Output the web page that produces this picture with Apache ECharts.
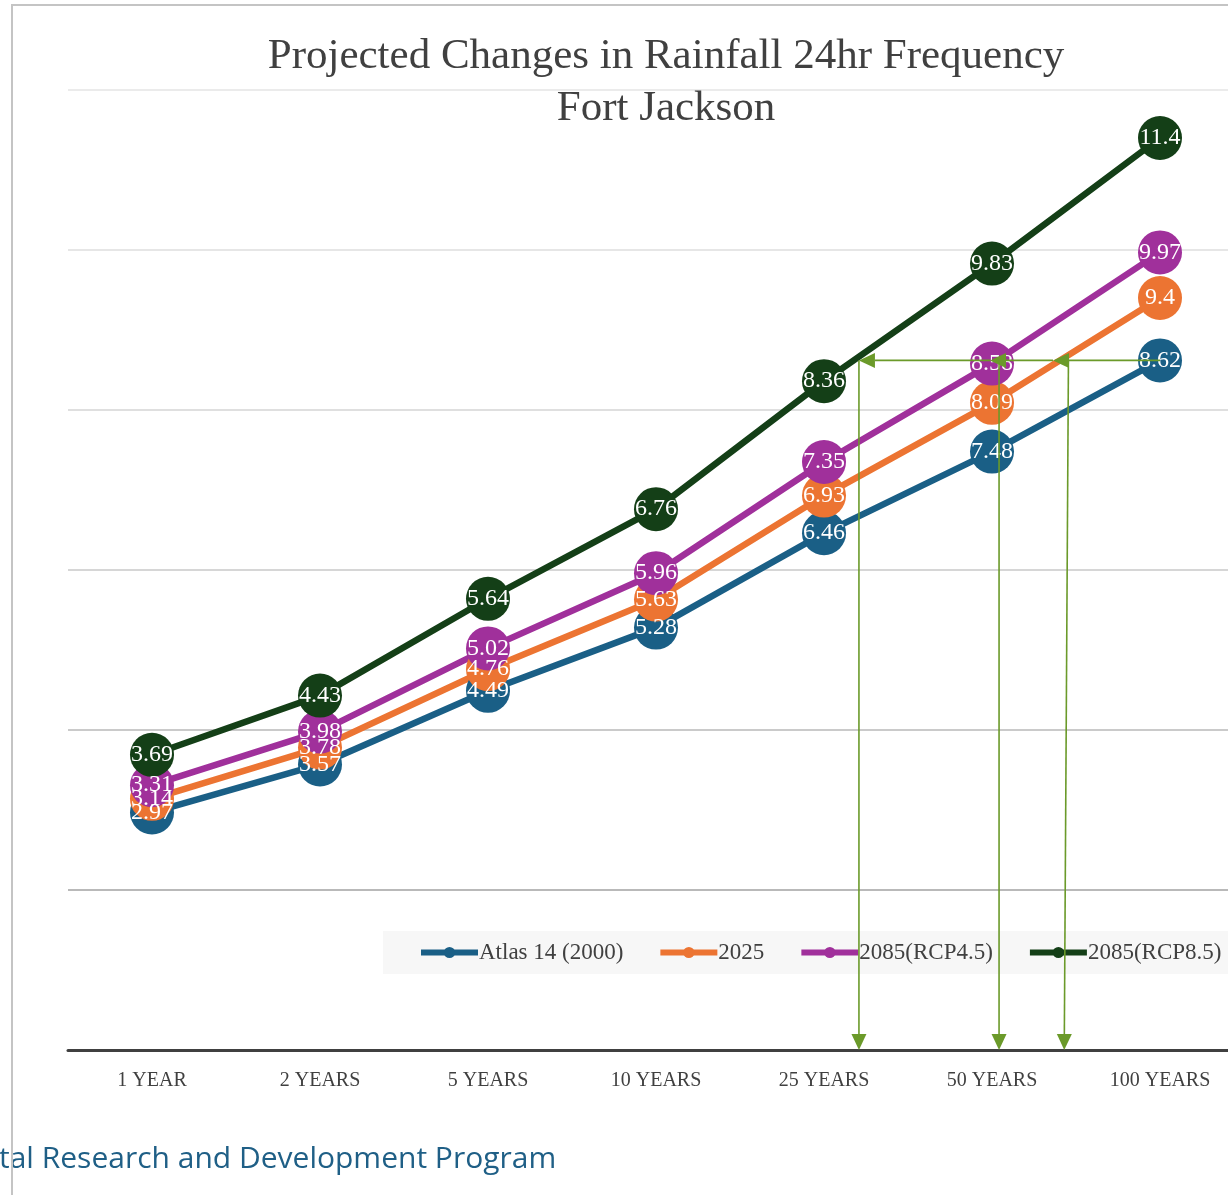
<!DOCTYPE html>
<html>
<head>
<meta charset="utf-8">
<script src="https://cdn.jsdelivr.net/npm/echarts@6/dist/echarts.min.js"></script>
<style>
html,body{margin:0;padding:0;background:#fff;overflow:hidden;}
#chart{width:1244px;height:1195px;}
</style>
</head>
<body>
<div id="chart"></div>
<script>
var categories = ['1 YEAR', '2 YEARS', '5 YEARS', '10 YEARS', '25 YEARS', '50 YEARS', '100 YEARS'];
var atlas14 = [2.97, 3.57, 4.49, 5.28, 6.46, 7.48, 8.62];
var y2025 = [3.14, 3.78, 4.76, 5.63, 6.93, 8.09, 9.4];
var rcp45 = [3.31, 3.98, 5.02, 5.96, 7.35, 8.58, 9.97];
var rcp85 = [3.69, 4.43, 5.64, 6.76, 8.36, 9.83, 11.4];
var seriesNames = ['Atlas 14 (2000)', '2025', '2085(RCP4.5)', '2085(RCP8.5)'];
// annotation arrows in data units [x1, y1, x2, y2] (x as category index), head at the second point
var arrowSegments = [
  [6, 8.62, 5.363, 8.62],
  [5.363, 8.62, 4.988, 8.62],
  [4.988, 8.62, 4.208, 8.62],
  [4.208, 8.62, 4.208, 0],
  [5.042, 8.62, 5.042, 0],
  [5.455, 8.62, 5.43, 0]
];

var colors = ['#1a5f86', '#ec7432', '#a0309b', '#143f17'];
var serif = '"Liberation Serif", "Times New Roman", serif';

function lineSeries(name, data, color) {
  return {
    name: name, type: 'line', data: data,
    xAxisIndex: 0, yAxisIndex: 0,
    symbol: 'circle', symbolSize: 44,
    lineStyle: { color: color, width: 6.5 },
    itemStyle: { color: color },
    label: { show: true, position: 'inside', color: '#fff', fontSize: 24, fontFamily: serif },
    emphasis: { disabled: true },
    z: 3
  };
}

var chart = echarts.init(document.getElementById('chart'));
chart.setOption({
  animation: false,
  backgroundColor: '#fff',
  title: {
    text: 'Projected Changes in Rainfall 24hr Frequency\nFort Jackson',
    left: 661, top: 26, textAlign: 'center',
    textStyle: { fontFamily: serif, fontSize: 43, fontWeight: 'normal', color: '#404040', lineHeight: 52 }
  },
  legend: {
    data: seriesNames,
    left: 383, top: 931,
    padding: [10, 10, 10, 35],
    backgroundColor: '#f7f7f7',
    itemWidth: 57, itemHeight: 14, itemGap: 34,
    lineStyle: { width: 6 },
    textStyle: { fontFamily: serif, fontSize: 23, color: '#404040', padding: [0, 0, 0, -4] }
  },
  grid: { left: 68, top: 90, right: 0, bottom: 145, containLabel: false },
  xAxis: [
    {
      type: 'category', data: categories, boundaryGap: true,
      axisLine: { show: true, lineStyle: { color: '#404040', width: 3 } },
      axisTick: { show: false },
      axisLabel: { fontFamily: serif, fontSize: 20, color: '#404040', margin: 21 }
    },
    { type: 'value', min: -0.5, max: 6.5, show: false }
  ],
  yAxis: {
    type: 'value', min: 0, max: 12, interval: 2,
    axisLine: { show: false }, axisTick: { show: false }, axisLabel: { show: false },
    splitLine: { lineStyle: { color: ['#999999', '#a2a2a2', '#b8b8b8', '#c8c8c8', '#d4d4d4', '#dedede', '#e4e4e4'], width: 1.5 } }
  },
  series: [
    lineSeries(seriesNames[0], atlas14, colors[0]),
    lineSeries(seriesNames[1], y2025, colors[1]),
    lineSeries(seriesNames[2], rcp45, colors[2]),
    lineSeries(seriesNames[3], rcp85, colors[3]),
    {
      type: 'custom', xAxisIndex: 1, yAxisIndex: 0, z: 20, silent: true,
      data: arrowSegments,
      encode: { x: [0, 2], y: [1, 3] },
      renderItem: function (params, api) {
        var p1 = api.coord([api.value(0), api.value(1)]);
        var p2 = api.coord([api.value(2), api.value(3)]);
        var dx = p2[0] - p1[0], dy = p2[1] - p1[1];
        var len = Math.sqrt(dx * dx + dy * dy);
        var ux = dx / len, uy = dy / len;
        var hl = 16, hw = 7.5;
        var bx = p2[0] - ux * hl, by = p2[1] - uy * hl;
        return {
          type: 'group',
          children: [
            { type: 'line', shape: { x1: p1[0], y1: p1[1], x2: bx, y2: by }, style: { stroke: '#6b9a2a', lineWidth: 1.6 } },
            { type: 'polygon', shape: { points: [[p2[0], p2[1]], [bx - uy * hw, by + ux * hw], [bx + uy * hw, by - ux * hw]] }, style: { fill: '#6b9a2a' } }
          ]
        };
      }
    }
  ],
  graphic: [
    { type: 'polyline', shape: { points: [[12, 1195], [12, 5], [1244, 5]] }, style: { stroke: '#c4c4c4', lineWidth: 2, fill: null }, z: 100 },
    { type: 'text', left: -1, top: 1144, style: { text: 'tal Research and Development Program', font: '30px "Open Sans", "Noto Sans", sans-serif', fill: '#1f5f86' }, z: 50 }
  ]
});
</script>
</body>
</html>
